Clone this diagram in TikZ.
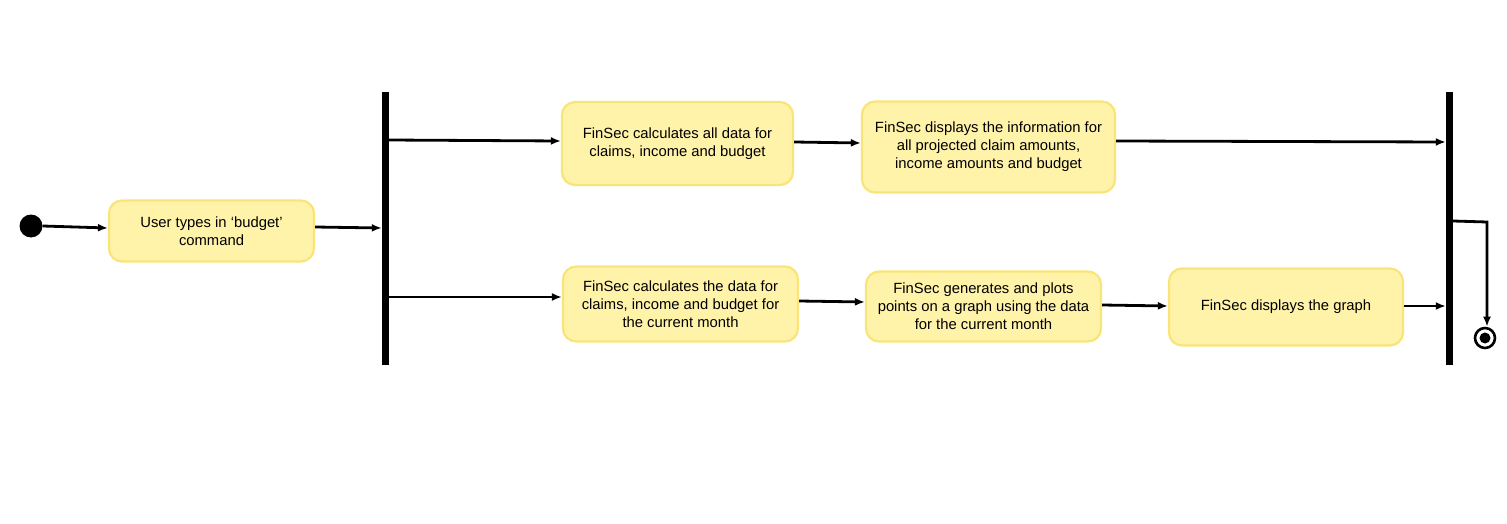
\documentclass[tikz,border=0pt]{standalone}
\usepackage{fontspec}
\setmainfont{Liberation Sans}
\usetikzlibrary{arrows.meta}
\definecolor{boxfill}{RGB}{255,243,170}
\definecolor{boxline}{RGB}{250,228,120}
\tikzset{
  act/.style={draw=boxline, fill=boxfill, line width=2.2pt, rounded corners=13pt, align=center, inner sep=2pt, font=\fontsize{14.8}{18}\selectfont},
  bar/.style={fill=black, draw=none},
  flow/.style={line width=2.8pt, -{Latex[length=10pt,width=8pt]}},
}
\begin{document}
\begin{tikzpicture}[x=1pt,y=-1pt]
\useasboundingbox (0,0) rectangle (1507,524);
% initial
\node[circle, fill=black, minimum size=23pt, inner sep=0pt] (init) at (31,226) {};
% activities
\node[act, minimum width=205pt, minimum height=61pt] (b1) at (211.5,231) {User types in ‘budget’\\command};
\node[act, minimum width=231pt, minimum height=83pt] (b2) at (677.5,143.5) {FinSec calculates all data for\\claims, income and budget};
\node[act, minimum width=253pt, minimum height=91pt] (b3) at (988.5,147) {FinSec displays the information for\\all projected claim amounts,\\income amounts and budget};
\node[act, minimum width=235pt, minimum height=75pt] (b4) at (680.5,304) {FinSec calculates the data for\\claims, income and budget for\\the current month};
\node[act, minimum width=235pt, minimum height=70pt] (b5) at (983.5,306.5) {FinSec generates and plots\\points on a graph using the data\\for the current month};
\node[act, minimum width=234pt, minimum height=77pt] (b6) at (1286,307) {FinSec displays the graph};
% bars
\node[bar, minimum width=7pt, minimum height=273pt, inner sep=0pt] (fork) at (385.5,228.5) {};
\node[bar, minimum width=7pt, minimum height=273pt, inner sep=0pt] (join) at (1449.5,228.5) {};
% final
\node[circle, draw=black, line width=2.6pt, minimum size=20pt, inner sep=0pt] (fin) at (1485,338) {};
\fill[black] (fin.center) circle (5.5pt);
% coordinates
\coordinate (f1) at (388,140);
\coordinate (f2) at (388,297);
\coordinate (j0) at (1453,221);
% connectors
\draw[flow] (init.east) -- (b1.west |- 0,228);
\draw[flow] (b1.east |- 0,227) -- (fork.west |- 0,228);
\draw[flow] (f1) -- (b2.west |- 0,141);
\draw[flow] (b2.east |- 0,142) -- (b3.west |- 0,143);
\draw[flow] (b3.east |- 0,141) -- (join.west |- 0,142);
\draw[flow] (f2) -- (b4.west |- 0,297);
\draw[flow] (b4.east |- 0,301) -- (b5.west |- 0,302);
\draw[flow] (b5.east |- 0,305) -- (b6.west |- 0,306);
\draw[flow] (b6.east |- 0,306) -- (join.west |- 0,306);
\draw[flow] (j0) -- (1487,222) -- (fin.north -| 1487,0);
\end{tikzpicture}
\end{document}
